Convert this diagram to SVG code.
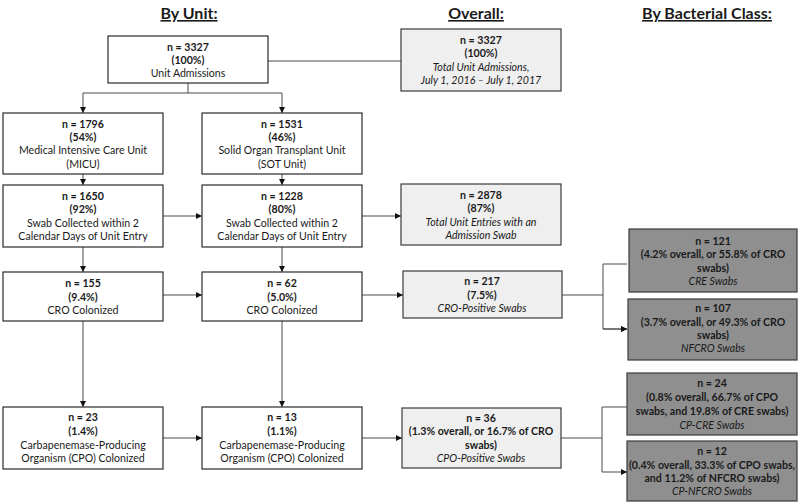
<svg xmlns="http://www.w3.org/2000/svg" width="800" height="504" viewBox="0 0 800 504">
<style>
text{font-family:Lato,"Open Sans","Liberation Sans",sans-serif;font-size:10.6px;fill:#1a1a1a;text-anchor:middle}
.h{font-size:16px;font-weight:bold;text-decoration:underline}
.b{font-weight:bold}
.i{font-style:italic}
.w{fill:#ffffff;stroke:#2b2b2b;stroke-width:1.2}
.o{fill:#efefef;stroke:#3a3a3a;stroke-width:1.2}
.d{fill:#8f8f8f;stroke:#3a3a3a;stroke-width:1.2}
.c{fill:none;stroke:#4a4a4a;stroke-width:1}
.a{marker-end:url(#arr)}
</style>
<defs>
<marker id="arr" markerWidth="6" markerHeight="6" refX="6" refY="3" orient="auto" markerUnits="userSpaceOnUse">
<path d="M0,0 L6,3 L0,6 z" fill="#111"/>
</marker>
</defs>
<text class="h" x="189" y="19">By Unit:</text>
<text class="h" x="476" y="19">Overall:</text>
<text class="h" x="707" y="19">By Bacterial Class:</text>
<g id="connectors">
<polyline class="c" points="188,83 188,93 83,93 83,113" marker-end="url(#arr)"/>
<polyline class="c" points="188,93 282,93 282,113" marker-end="url(#arr)"/>
<line class="c" x1="268" y1="61" x2="401" y2="61"/>
<line class="c a" x1="83" y1="174" x2="83" y2="185"/>
<line class="c a" x1="282" y1="174" x2="282" y2="185"/>
<line class="c a" x1="163" y1="216" x2="202" y2="216"/>
<line class="c a" x1="362" y1="216" x2="401" y2="216"/>
<line class="c a" x1="83" y1="247" x2="83" y2="272"/>
<line class="c a" x1="282" y1="247" x2="282" y2="272"/>
<line class="c a" x1="163" y1="295" x2="202" y2="295"/>
<line class="c a" x1="362" y1="295" x2="403" y2="295"/>
<line class="c" x1="562" y1="295" x2="603" y2="295"/>
<polyline class="c a" points="627,264 603,264 603,329 627,329"/>
<line class="c a" x1="603" y1="329" x2="627" y2="329"/>
<line class="c a" x1="83" y1="321" x2="83" y2="407"/>
<line class="c a" x1="282" y1="321" x2="282" y2="407"/>
<line class="c a" x1="163" y1="438" x2="202" y2="438"/>
<line class="c a" x1="362" y1="438" x2="402" y2="438"/>
<line class="c" x1="561" y1="438" x2="602" y2="438"/>
<polyline class="c a" points="627,407 602,407 602,472 627,472"/>
</g>
<g id="n-admissions">
<rect class="w" x="108" y="36" width="160" height="47"/>
<text class="b" x="188" y="51">n = 3327</text>
<text class="b" x="188" y="64">(100%)</text>
<text x="188" y="77">Unit Admissions</text>
</g>
<g id="n-total-admissions">
<rect class="o" x="401" y="29" width="160" height="62"/>
<text class="b" x="481" y="44">n = 3327</text>
<text class="b" x="481" y="57">(100%)</text>
<text class="i" x="481" y="71">Total Unit Admissions,</text>
<text class="i" x="481" y="84">July 1, 2016 – July 1, 2017</text>
</g>
<g id="n-micu">
<rect class="w" x="3" y="113" width="160" height="61"/>
<text class="b" x="83" y="128">n = 1796</text>
<text class="b" x="83" y="141">(54%)</text>
<text x="83" y="154">Medical Intensive Care Unit</text>
<text x="83" y="168">(MICU)</text>
</g>
<g id="n-sot">
<rect class="w" x="202" y="113" width="160" height="61"/>
<text class="b" x="282" y="128">n = 1531</text>
<text class="b" x="282" y="141">(46%)</text>
<text x="282" y="154">Solid Organ Transplant Unit</text>
<text x="282" y="168">(SOT Unit)</text>
</g>
<g id="n-micu-swab">
<rect class="w" x="3" y="185" width="160" height="62"/>
<text class="b" x="83" y="200">n = 1650</text>
<text class="b" x="83" y="213">(92%)</text>
<text x="83" y="227">Swab Collected within 2</text>
<text x="83" y="240">Calendar Days of Unit Entry</text>
</g>
<g id="n-sot-swab">
<rect class="w" x="202" y="185" width="160" height="62"/>
<text class="b" x="282" y="200">n = 1228</text>
<text class="b" x="282" y="213">(80%)</text>
<text x="282" y="227">Swab Collected within 2</text>
<text x="282" y="240">Calendar Days of Unit Entry</text>
</g>
<g id="n-total-swab">
<rect class="o" x="401" y="184" width="160" height="61"/>
<text class="b" x="481" y="199">n = 2878</text>
<text class="b" x="481" y="212">(87%)</text>
<text class="i" x="481" y="226">Total Unit Entries with an</text>
<text class="i" x="481" y="239">Admission Swab</text>
</g>
<g id="n-micu-cro">
<rect class="w" x="3" y="272" width="160" height="49"/>
<text class="b" x="83" y="287">n = 155</text>
<text class="b" x="83" y="301">(9.4%)</text>
<text x="83" y="314">CRO Colonized</text>
</g>
<g id="n-sot-cro">
<rect class="w" x="202" y="272" width="160" height="49"/>
<text class="b" x="282" y="287">n = 62</text>
<text class="b" x="282" y="301">(5.0%)</text>
<text x="282" y="314">CRO Colonized</text>
</g>
<g id="n-total-cro">
<rect class="o" x="403" y="271" width="159" height="47"/>
<text class="b" x="482" y="285">n = 217</text>
<text class="b" x="482" y="299">(7.5%)</text>
<text class="i" x="482" y="312">CRO-Positive Swabs</text>
</g>
<g id="n-cre">
<rect class="d" x="629" y="229" width="168" height="63"/>
<text class="b" x="713" y="245">n = 121</text>
<text class="b" x="713" y="258">(4.2% overall, or 55.8% of CRO</text>
<text class="b" x="713" y="272">swabs)</text>
<text class="i" x="713" y="285">CRE Swabs</text>
</g>
<g id="n-nfcro">
<rect class="d" x="628" y="299" width="169" height="61"/>
<text class="b" x="713" y="312">n = 107</text>
<text class="b" x="713" y="326">(3.7% overall, or 49.3% of CRO</text>
<text class="b" x="713" y="339">swabs)</text>
<text class="i" x="713" y="352">NFCRO Swabs</text>
</g>
<g id="n-micu-cpo">
<rect class="w" x="3" y="407" width="160" height="62"/>
<text class="b" x="83" y="421">n = 23</text>
<text class="b" x="83" y="435">(1.4%)</text>
<text x="83" y="449">Carbapenemase-Producing</text>
<text x="83" y="462">Organism (CPO) Colonized</text>
</g>
<g id="n-sot-cpo">
<rect class="w" x="202" y="407" width="160" height="62"/>
<text class="b" x="282" y="421">n = 13</text>
<text class="b" x="282" y="435">(1.1%)</text>
<text x="282" y="449">Carbapenemase-Producing</text>
<text x="282" y="462">Organism (CPO) Colonized</text>
</g>
<g id="n-total-cpo">
<rect class="o" x="402" y="408" width="159" height="60"/>
<text class="b" x="481" y="422">n = 36</text>
<text class="b" x="481" y="435">(1.3% overall, or 16.7% of CRO</text>
<text class="b" x="481" y="449">swabs)</text>
<text class="i" x="481" y="462">CPO-Positive Swabs</text>
</g>
<g id="n-cp-cre">
<rect class="d" x="627" y="373" width="170" height="62"/>
<text class="b" x="712" y="387">n = 24</text>
<text class="b" x="712" y="401">(0.8% overall, 66.7% of CPO</text>
<text class="b" x="712" y="415">swabs, and 19.8% of CRE swabs)</text>
<text class="i" x="712" y="429">CP-CRE Swabs</text>
</g>
<g id="n-cp-nfcro">
<rect class="d" x="627" y="441" width="170" height="60"/>
<text class="b" x="712" y="455">n = 12</text>
<text class="b" x="712" y="469">(0.4% overall, 33.3% of CPO swabs,</text>
<text class="b" x="712" y="482">and 11.2% of NFCRO swabs)</text>
<text class="i" x="712" y="495">CP-NFCRO Swabs</text>
</g>
</svg>
